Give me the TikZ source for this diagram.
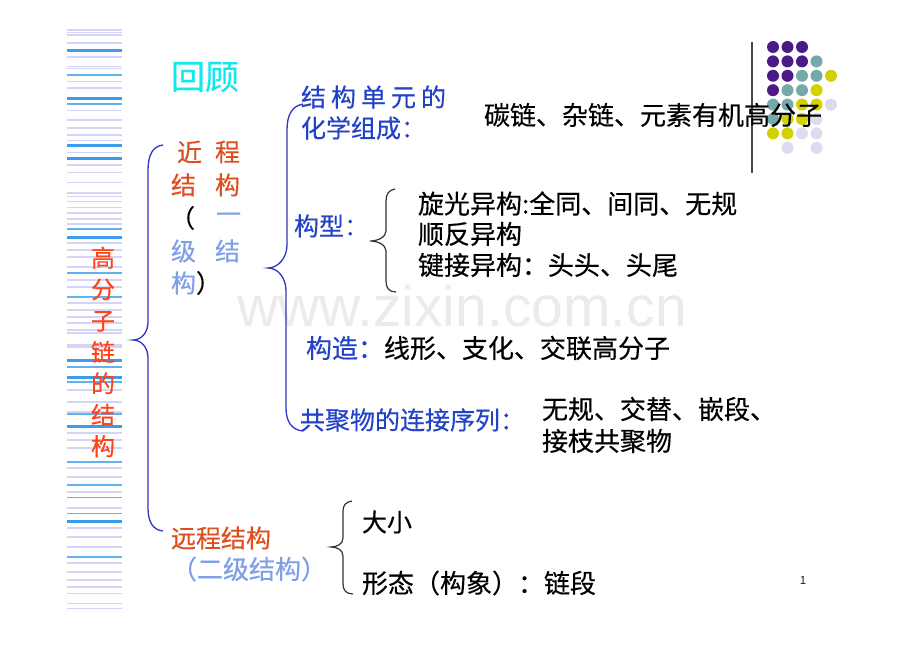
\documentclass[tikz,border=0pt]{standalone}
\usepackage{fontspec}
\setmainfont{Noto Sans CJK SC}[FakeBold=0.35]
\newfontfamily\wmfont{Liberation Sans}
\definecolor{cyanT}{HTML}{10E8F0}
\definecolor{blueT}{HTML}{2242C8}
\definecolor{lblueT}{HTML}{7F9FE8}
\definecolor{orT}{HTML}{DC5020}
\definecolor{orV}{HTML}{FF4419}
\definecolor{braceB}{HTML}{3434C4}
\definecolor{braceK}{HTML}{333333}
\definecolor{stripL}{HTML}{D4D4F4}
\definecolor{stripB}{HTML}{3B9CEB}
\definecolor{stripC}{HTML}{62B2F0}
\definecolor{dotP}{HTML}{4B1A86}
\definecolor{dotT}{HTML}{76A9A9}
\definecolor{dotY}{HTML}{D2D200}
\definecolor{dotL}{HTML}{DCDCF0}
\definecolor{wmC}{HTML}{EBEBEB}
\begin{document}
\begin{tikzpicture}[x=1pt,y=-1pt,
  fs/.style={font=\fontsize{#1}{#1}\selectfont},
  tx/.style={anchor=west,inner sep=0pt,outer sep=0pt},
  bracb/.style={draw=braceB,line width=1.3pt},
  brack/.style={draw=braceK,line width=1.2pt}]
\useasboundingbox (0,0) rectangle (920,652);
\fill[white] (0,0) rectangle (920,652);
% watermark
\node[anchor=base,inner sep=0pt,text=wmC,font=\wmfont\fontsize{57}{57}\selectfont] (wm) at (462,326) {www.zixin.com.cn};
% left stripes
\foreach \yy in {30,32.7,35.3,43.3,57.3,66.7,68.7,81.7,88.3,110.7,120,128.3,135,140.7,152.7,165,172.7,182.7,193.3,196.7,201.7,207.7,213.3,219.3,224,243.3,250,256.7,266.7,280,286.7,303,310,316.7,323,330,333,345,347,390,401.7,411.7,433,440,448,468,476.7,491.7,508,528,536.7,546.7,563,571.7,580,586.7,593.3,603.3,608.3}
  \draw[stripL,line width=1.6pt] (67,\yy) -- (122,\yy);
\foreach \yy in {75,104,229.3,272.7,296.7,366.7,381.7,414,461.7,485,497.3,513.3,556.7}
  \draw[stripC,line width=1.6pt] (67,\yy) -- (122,\yy);
\foreach \yy in {50.7,99,146,158.3,237.3,360.7,377.3,426.7,521.7}
  \draw[stripB,line width=3pt] (67,\yy) -- (122,\yy);
% dots
\foreach \c/\r/\col in {1/1/dotP,2/1/dotP,3/1/dotP,
  1/2/dotP,2/2/dotP,3/2/dotP,4/2/dotT,
  1/3/dotP,2/3/dotP,3/3/dotT,4/3/dotT,5/3/dotY,
  1/4/dotP,2/4/dotT,3/4/dotT,4/4/dotY,
  1/5/dotT,2/5/dotT,3/5/dotY,4/5/dotY,5/5/dotL,
  1/6/dotT,2/6/dotY,3/6/dotY,4/6/dotL,
  1/7/dotY,2/7/dotY,3/7/dotL,4/7/dotL,
  2/8/dotL,4/8/dotL}
  \fill[\col] ({758.5+14.5*\c},{32.6+14.4*\r}) circle (6);
\draw[draw=braceK!90,line width=1.1pt] (752,42) -- (752,173);
% title
\node[tx,fs=34,text=cyanT] (title) at (171,77) {回顾};
% vertical title
\node[inner sep=0pt,text=orV,font=\fontsize{24}{31.4}\selectfont,align=center] (vt) at (103,352) {高\\分\\子\\链\\的\\结\\构};
% near-range block
\node[tx,fs=25,text=orT] (jA) at (177,152) {近};
\node[tx,fs=25,text=orT] (jB) at (215,152) {程};
\node[tx,fs=25,text=orT] (jC) at (171,185) {结};
\node[tx,fs=25,text=orT] (jD) at (215,185) {构};
\node[tx,fs=25,text=black] (jE) at (170,218) {（};
\node[tx,fs=25,text=lblueT] (jF) at (216,218) {一};
\node[tx,fs=25,text=lblueT] (jG) at (171,251) {级};
\node[tx,fs=25,text=lblueT] (jH) at (215,251) {结};
\node[tx,fs=25] (jI) at (171,283) {\textcolor{lblueT}{构}）};
% far-range
\node[tx,fs=25,text=orT] (far) at (171,538) {远程结构};
\node[tx,fs=26,text=lblueT] (far2) at (171,569) {（二级结构）};
% middle column
\node[tx,fs=25,text=blueT] (u1) at (301,97) {结\hspace{5pt}构\hspace{5pt}单\hspace{5pt}元\hspace{5pt}的};
\node[tx,fs=25,text=blueT] (u2) at (301,128) {化学组成：};
\node[tx,fs=26] (u3) at (484,115) {碳链、杂链、元素有机高分子};
\node[tx,fs=25,text=blueT] (cx) at (294,226) {构型：};
\node[tx,fs=26] (c1) at (418,203.5) {旋光异构:全同、间同、无规};
\node[tx,fs=26] (c2) at (418,234) {顺反异构};
\node[tx,fs=26] (c3) at (418,265) {键接异构：头头、头尾};
\node[tx,fs=26] (gz) at (306,348) {\textcolor{blueT}{构造：}线形、支化、交联高分子};
\node[tx,fs=25,text=blueT] (gj) at (300,420) {共聚物的连接序列：};
\node[tx,fs=26] (g1) at (542,409) {无规、交替、嵌段、};
\node[tx,fs=26] (g2) at (542,441) {接枝共聚物};
\node[tx,fs=25] (d1) at (362,522) {大小};
\node[tx,fs=26] (d2) at (362,583) {形态（构象）：链段};
\node[inner sep=0pt,text=braceK,font=\fontsize{11}{11}\selectfont] (pg) at (803,580) {1};
% braces
\draw[bracb] (163,145) .. controls (153,146) and (148,155) .. (148,170) -- (148,322)
  .. controls (148,333) and (141,340) .. (133,340)
  .. controls (141,340) and (148,347) .. (148,358) -- (148,508)
  .. controls (148,522) and (153,530) .. (163,531);
\draw[bracb] (303,104) .. controls (292,106) and (287,115) .. (287,130) -- (287,245)
  .. controls (287,258) and (278,268) .. (268,268)
  .. controls (278,268) and (286,278) .. (286,291) -- (286,408)
  .. controls (286,422) and (292,430) .. (303,431);
\draw[brack] (395,189) .. controls (389,190) and (386,194) .. (386,201) -- (386,231)
  .. controls (386,237) and (378,241) .. (370,241)
  .. controls (378,241) and (386,245) .. (386,251) -- (386,281)
  .. controls (386,288) and (389,292) .. (396,292);
\draw[brack] (352,501) .. controls (346,502) and (343,505) .. (343,511) -- (343,538)
  .. controls (343,544) and (337,547) .. (331,547)
  .. controls (337,547) and (343,550) .. (343,556) -- (343,584)
  .. controls (343,590) and (346,594) .. (353,594);
\end{tikzpicture}
\end{document}
